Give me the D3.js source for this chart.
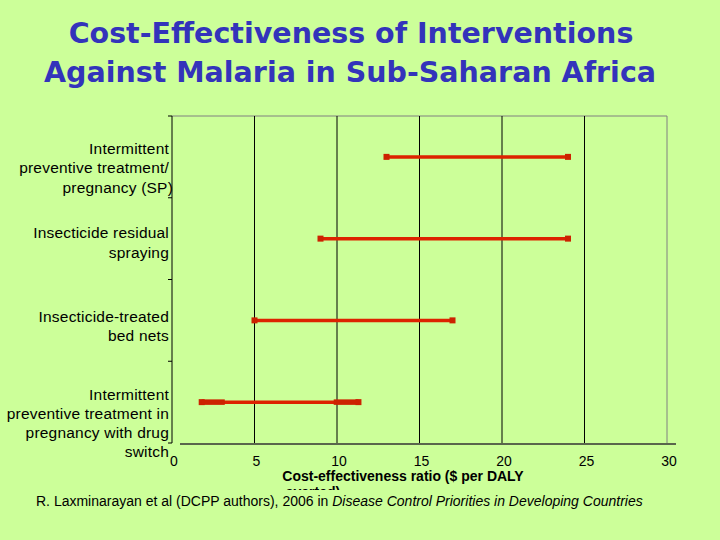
<!DOCTYPE html>
<html><head><meta charset="utf-8">
<script src="https://cdn.jsdelivr.net/npm/d3@7"></script>
<style>body{margin:0;background:#ccff99;}svg{display:block;}</style>
</head><body>
<script>
const categories = [
  ["Intermittent","preventive treatment/","pregnancy (SP)"],
  ["Insecticide residual","spraying"],
  ["Insecticide-treated","bed nets"],
  ["Intermittent","preventive treatment in","pregnancy with drug","switch"]
];
const lowValues  = [13, 9, 5, 1.8];
const highValues = [24, 24, 17, 11.3];
// thicker inner segments seen on the last row
const innerSegments = [[3, 1.8, 3.2], [3, 9.8, 11.3]];
const xTicks = [0, 5, 10, 15, 20, 25, 30];

const W = 720, H = 540;
const svg = d3.select("body").append("svg").attr("width", W).attr("height", H);
svg.append("rect").attr("width", W).attr("height", H).attr("fill", "#ccff99");

const pL = 172, pR = 667, pT = 116, pB = 443;
const x = d3.scaleLinear().domain([0, 30]).range([pL, pR]);
const y = d3.scaleBand().domain(d3.range(categories.length)).range([pT, pB]);

// title
svg.append("text").attr("x", 351).attr("y", 43).attr("text-anchor", "middle")
  .attr("font-family", "DejaVu Sans").attr("font-weight", "bold").attr("font-size", 28.5)
  .attr("fill", "#3333bb").text("Cost-Effectiveness of Interventions");
svg.append("text").attr("x", 350).attr("y", 82).attr("text-anchor", "middle")
  .attr("font-family", "DejaVu Sans").attr("font-weight", "bold").attr("font-size", 28.5)
  .attr("fill", "#3333bb").text("Against Malaria in Sub-Saharan Africa");

// frame
svg.append("line").attr("x1", pL).attr("x2", pR).attr("y1", pT).attr("y2", pT)
  .attr("stroke", "#808080").attr("stroke-width", 1);
svg.append("line").attr("x1", pR).attr("x2", pR).attr("y1", pT).attr("y2", pB)
  .attr("stroke", "#808080").attr("stroke-width", 1);

// gridlines
svg.append("g").selectAll("line").data(xTicks.filter(t => t > 0 && t < 30)).join("line")
  .attr("x1", d => x(d)).attr("x2", d => x(d)).attr("y1", pT).attr("y2", pB)
  .attr("stroke", "#000").attr("stroke-width", 1);

// left axis
svg.append("line").attr("x1", pL).attr("x2", pL).attr("y1", pT).attr("y2", pB)
  .attr("stroke", "#000").attr("stroke-width", 1);
const yTickPos = d3.range(categories.length + 1).map(i => pT + i * y.step());
svg.append("g").selectAll("line").data(yTickPos).join("line")
  .attr("x1", pL - 4).attr("x2", pL).attr("y1", d => d).attr("y2", d => d)
  .attr("stroke", "#000");

// bottom axis
svg.append("line").attr("x1", pL + 8).attr("x2", pR + 9).attr("y1", pB + 1).attr("y2", pB + 1)
  .attr("stroke", "#333").attr("stroke-width", 1.5);
svg.append("g").selectAll("text").data(xTicks).join("text")
  .attr("x", d => x(d) + 2).attr("y", 466).attr("text-anchor", "middle")
  .attr("font-family", "Liberation Sans, Arial").attr("font-size", 14).attr("fill", "#000")
  .text(d => d);

// category labels
const labelBase = [ [154,173,193], [238,258], [322,341], [400,419,438,457] ];
categories.forEach((lines, i) => {
  lines.forEach((s, j) => {
    svg.append("text").attr("x", j === 2 && i === 0 ? 173 : 169).attr("y", labelBase[i][j]).attr("text-anchor", "end")
      .attr("font-family", "Liberation Sans, Arial").attr("font-size", 15.5)
      .attr("letter-spacing", 0.2).attr("fill", "#000")
      .text(s);
  });
});

// range bars
const bars = svg.append("g");
categories.forEach((c, i) => {
  const cy = y(i) + y.bandwidth() / 2;
  bars.append("line").attr("x1", x(lowValues[i])).attr("x2", x(highValues[i]))
    .attr("y1", cy).attr("y2", cy).attr("stroke", "#dd2200").attr("stroke-width", 3.5);
  [lowValues[i], highValues[i]].forEach(v => {
    bars.append("rect").attr("x", x(v) - 3).attr("y", cy - 3).attr("width", 6).attr("height", 6)
      .attr("fill", "#cc2200");
  });
});
innerSegments.forEach(([i, a, b]) => {
  const cy = y(i) + y.bandwidth() / 2;
  bars.append("line").attr("x1", x(a)).attr("x2", x(b)).attr("y1", cy).attr("y2", cy)
    .attr("stroke", "#cc2200").attr("stroke-width", 5.5);
});

// axis title (second line partly hidden, as in the original)
svg.append("defs").append("clipPath").attr("id", "clipT").append("rect")
  .attr("x", 0).attr("y", 0).attr("width", W).attr("height", 490);
const at = svg.append("g").attr("clip-path", "url(#clipT)");
at.append("text").attr("x", 403).attr("y", 481).attr("text-anchor", "middle")
  .attr("font-family", "Liberation Sans, Arial").attr("font-weight", "bold").attr("font-size", 14)
  .text("Cost-effectiveness ratio ($ per DALY");
at.append("text").attr("x", 313).attr("y", 497).attr("text-anchor", "middle")
  .attr("font-family", "Liberation Sans, Arial").attr("font-weight", "bold").attr("font-size", 14)
  .text("averted)");

// citation
const cit = svg.append("text").attr("x", 36).attr("y", 506)
  .attr("font-family", "Liberation Sans, Arial").attr("font-size", 14).attr("fill", "#000");
cit.append("tspan").text("R. Laxminarayan et al (DCPP authors), 2006 in ");
cit.append("tspan").attr("font-style", "italic").text("Disease Control Priorities in Developing Countries");
</script>
</body></html>
